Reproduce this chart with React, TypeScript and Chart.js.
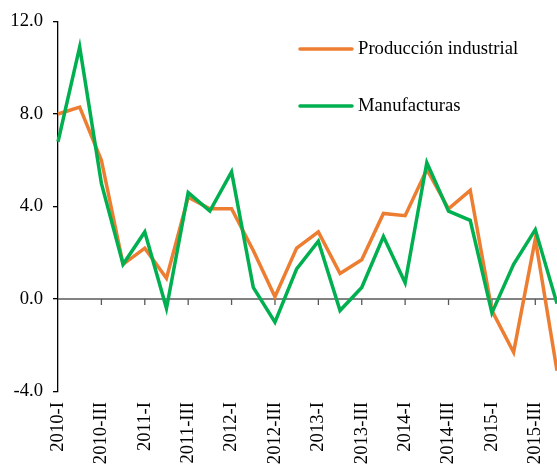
import React, { useEffect, useRef } from 'react';
import { Chart, registerables } from 'chart.js';

Chart.register(...registerables);

const categories = [
  '2010-I', '2010-II', '2010-III', '2010-IV',
  '2011-I', '2011-II', '2011-III', '2011-IV',
  '2012-I', '2012-II', '2012-III', '2012-IV',
  '2013-I', '2013-II', '2013-III', '2013-IV',
  '2014-I', '2014-II', '2014-III', '2014-IV',
  '2015-I', '2015-II', '2015-III', '2015-IV',
];

const produccionIndustrial = [
  8.0, 8.3, 6.0, 1.5,
  2.2, 0.9, 4.4, 3.9,
  3.9, 2.1, 0.1, 2.2,
  2.9, 1.1, 1.7, 3.7,
  3.6, 5.6, 3.9, 4.7,
  -0.5, -2.3, 2.6, -3.1,
];

const manufacturas = [
  6.8, 10.9, 5.0, 1.5,
  2.9, -0.4, 4.6, 3.8,
  5.5, 0.5, -1.0, 1.3,
  2.5, -0.5, 0.5, 2.7,
  0.7, 5.9, 3.8, 3.4,
  -0.6, 1.5, 3.0, -0.2,
];

const yMin = -4;
const yMax = 12;
const yStep = 4;

const seriesNames = ['Producción industrial', 'Manufacturas'];
const seriesColors = ['#ED7D31', '#00B050'];

const FONT_FAMILY = "'Liberation Serif', 'Times New Roman', serif";
const FONT_SIZE = 18.67;
const CANVAS_W = 557;
const CANVAS_H = 464;
const PLOT_TOP = 21.5;
const PLOT_BOTTOM = 391.5;
const PLOT_LEFT = 58;

const areaFixPlugin = {
  id: 'areaFix',
  afterLayout(chart: any) {
    const x = chart.scales.x;
    if (x) {
      chart.chartArea.right = x.right;
      chart.chartArea.width = x.right - chart.chartArea.left;
    }
  },
};

const zeroTicksPlugin = {
  id: 'zeroTicks',
  beforeDatasetsDraw(chart: any) {
    const { ctx, scales } = chart;
    const x = scales.x;
    const y = scales.y;
    const y0 = y.getPixelForValue(0);
    ctx.save();
    ctx.strokeStyle = '#595959';
    ctx.lineWidth = 1.5;
    ctx.beginPath();
    ctx.moveTo(x.left, y0);
    ctx.lineTo(x.right, y0);
    ctx.stroke();
    ctx.lineWidth = 1.3;
    for (let i = 2; i < categories.length; i += 2) {
      const px = x.getPixelForValue(i);
      ctx.beginPath();
      ctx.moveTo(px, y0);
      ctx.lineTo(px, y0 + 6);
      ctx.stroke();
    }
    ctx.restore();
  },
};

const legendPlugin = {
  id: 'customLegend',
  afterDraw(chart: any) {
    const { ctx } = chart;
    const x0 = 300;
    const lineLen = 52;
    const gap = 6;
    const top = 49;
    const dy = 57;
    ctx.save();
    ctx.font = `${FONT_SIZE}px ${FONT_FAMILY}`;
    ctx.textBaseline = 'middle';
    ctx.textAlign = 'left';
    ctx.fillStyle = '#000';
    chart.data.datasets.forEach((ds: any, i: number) => {
      const yy = top + i * dy;
      ctx.strokeStyle = ds.borderColor;
      ctx.lineWidth = 3.5;
      ctx.lineCap = 'round';
      ctx.beginPath();
      ctx.moveTo(x0, yy);
      ctx.lineTo(x0 + lineLen, yy);
      ctx.stroke();
      ctx.fillText(ds.label, x0 + lineLen + gap, yy);
    });
    ctx.restore();
  },
};

export default function App() {
  const canvasRef = useRef<HTMLCanvasElement | null>(null);

  useEffect(() => {
    if (!canvasRef.current) return;
    const chart = new Chart(canvasRef.current, {
      type: 'line',
      data: {
        labels: categories,
        datasets: [
          {
            label: seriesNames[0],
            data: produccionIndustrial,
            borderColor: seriesColors[0],
            backgroundColor: seriesColors[0],
            borderWidth: 3.5,
            pointRadius: 0,
            tension: 0,
            fill: false,
            clip: false,
            order: 1,
          },
          {
            label: seriesNames[1],
            data: manufacturas,
            borderColor: seriesColors[1],
            backgroundColor: seriesColors[1],
            borderWidth: 3.5,
            pointRadius: 0,
            tension: 0,
            fill: false,
            clip: false,
            order: 0,
          },
        ],
      },
      options: {
        responsive: false,
        animation: false,
        layout: { padding: { top: PLOT_TOP, right: 0, bottom: 0, left: 0 } },
        plugins: {
          legend: { display: false },
          tooltip: { enabled: false },
        },
        scales: {
          x: {
            type: 'category',
            offset: false,
            grid: { display: false, drawTicks: false },
            border: { display: false },
            ticks: {
              autoSkip: false,
              minRotation: 90,
              maxRotation: 90,
              padding: 10.5,
              color: '#000',
              font: { family: FONT_FAMILY, size: FONT_SIZE },
              callback: (_v: any, i: number) => (i % 2 === 0 ? categories[i] : null),
            },
            afterFit: (s: any) => {
              s.height = CANVAS_H - PLOT_BOTTOM;
              s.paddingLeft = 0;
              s.paddingRight = 0;
            },
          },
          y: {
            min: yMin,
            max: yMax,
            ticks: {
              stepSize: yStep,
              padding: 10,
              color: '#000',
              font: { family: FONT_FAMILY, size: FONT_SIZE },
              callback: (v: any) => Number(v).toFixed(1),
            },
            grid: {
              drawOnChartArea: false,
              color: '#000',
              tickColor: '#000',
              tickLength: 5,
              lineWidth: 1.3,
              tickWidth: 1.3,
            },
            border: { color: '#000', width: 1.3 },
            afterFit: (s: any) => {
              s.width = PLOT_LEFT;
              s.paddingTop = 0;
              s.paddingBottom = 0;
            },
          },
        },
      },
      plugins: [areaFixPlugin, zeroTicksPlugin, legendPlugin],
    } as any);
    return () => chart.destroy();
  }, []);

  return (
    <>
      <style>{'html, body { margin: 0; padding: 0; overflow: hidden; }'}</style>
      <canvas
        ref={canvasRef}
        width={CANVAS_W}
        height={CANVAS_H}
        style={{ display: 'block', width: CANVAS_W, height: CANVAS_H }}
      />
    </>
  );
}
